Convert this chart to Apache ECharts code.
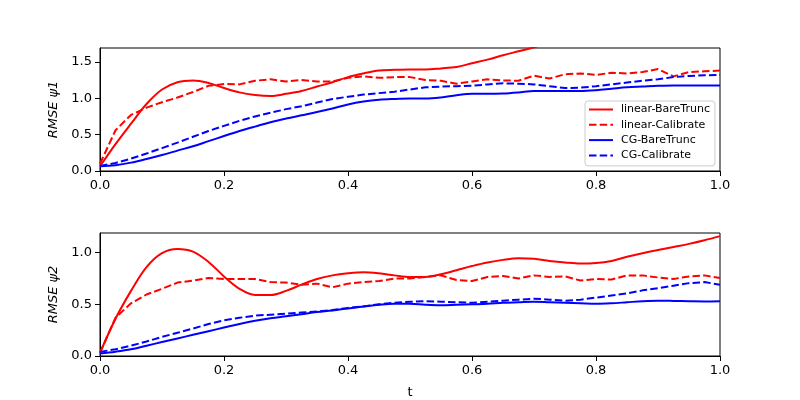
<!DOCTYPE html>
<html>
<head>
<meta charset="utf-8">
<script src="https://cdn.jsdelivr.net/npm/echarts@6/dist/echarts.min.js"></script>
<style>
  html, body { margin: 0; padding: 0; background: #fff; }
  #chart { width: 800px; height: 400px; }
</style>
</head>
<body>
<div id="chart"></div>
<script>
// 时间轴 t
var tVals = [0, 0.025, 0.05, 0.075, 0.1, 0.125, 0.15, 0.175, 0.2, 0.225, 0.25, 0.275, 0.3, 0.325, 0.35, 0.375, 0.4,
    0.425, 0.45, 0.475, 0.5, 0.525, 0.55, 0.575, 0.6, 0.625, 0.65, 0.675, 0.7, 0.725, 0.75, 0.775, 0.8,
    0.825, 0.85, 0.875, 0.9, 0.925, 0.95, 0.975, 1.0];

var legendNames = ['linear-BareTrunc', 'linear-Calibrate', 'CG-BareTrunc', 'CG-Calibrate'];
var xTicks = [0, 0.2, 0.4, 0.6, 0.8, 1.0];
var yTicks1 = [0, 0.5, 1.0, 1.5];
var yTicks2 = [0, 0.5, 1.0];

// psi1 (上图)
var linRaw1 = [0.065, 0.37, 0.65, 0.92, 1.12, 1.22, 1.245, 1.21, 1.14, 1.08, 1.045, 1.03, 1.06, 1.10, 1.16, 1.22, 1.29,
    1.34, 1.38, 1.39, 1.395, 1.395, 1.41, 1.43, 1.48, 1.53, 1.59, 1.645, 1.70, 1.76];
var linCal1 = [0.10, 0.56, 0.77, 0.87, 0.945, 1.01, 1.085, 1.17, 1.195, 1.19, 1.24, 1.26, 1.23, 1.25, 1.23, 1.23, 1.28,
    1.30, 1.28, 1.29, 1.29, 1.25, 1.24, 1.20, 1.23, 1.26, 1.245, 1.24, 1.31, 1.27, 1.33, 1.34, 1.32,
    1.35, 1.34, 1.36, 1.40, 1.30, 1.36, 1.37, 1.38];
var cgRaw1 = [0.065, 0.08, 0.115, 0.165, 0.22, 0.28, 0.34, 0.41, 0.48, 0.55, 0.61, 0.67, 0.72, 0.765, 0.81, 0.86, 0.915,
    0.955, 0.98, 0.99, 0.995, 0.995, 1.01, 1.04, 1.06, 1.06, 1.065, 1.08, 1.10, 1.10, 1.10, 1.10, 1.11,
    1.13, 1.15, 1.16, 1.17, 1.175, 1.175, 1.175, 1.175];
var cgCal1 = [0.07, 0.11, 0.17, 0.24, 0.315, 0.39, 0.47, 0.55, 0.62, 0.69, 0.75, 0.80, 0.85, 0.89, 0.94, 0.99, 1.02,
    1.05, 1.07, 1.09, 1.12, 1.15, 1.16, 1.165, 1.17, 1.19, 1.205, 1.20, 1.19, 1.165, 1.14, 1.145, 1.165,
    1.19, 1.215, 1.24, 1.26, 1.29, 1.305, 1.315, 1.32];

// psi2 (下图)
var linRaw2 = [0.03, 0.36, 0.63, 0.86, 0.995, 1.035, 1.01, 0.91, 0.77, 0.65, 0.59, 0.59, 0.63, 0.69, 0.745, 0.78, 0.80,
    0.81, 0.80, 0.78, 0.765, 0.765, 0.79, 0.83, 0.87, 0.905, 0.93, 0.945, 0.94, 0.92, 0.905, 0.895, 0.90,
    0.92, 0.96, 0.995, 1.025, 1.055, 1.085, 1.12, 1.16];
var linCal2 = [0.03, 0.37, 0.51, 0.595, 0.65, 0.71, 0.73, 0.755, 0.745, 0.745, 0.745, 0.715, 0.71, 0.69, 0.70, 0.665, 0.70,
    0.715, 0.725, 0.75, 0.75, 0.765, 0.78, 0.735, 0.725, 0.765, 0.775, 0.75, 0.78, 0.765, 0.77, 0.73, 0.745,
    0.74, 0.78, 0.78, 0.76, 0.745, 0.77, 0.78, 0.755];
var cgRaw2 = [0.025, 0.042, 0.065, 0.10, 0.135, 0.17, 0.205, 0.24, 0.275, 0.31, 0.34, 0.365, 0.385, 0.405, 0.425, 0.44, 0.46,
    0.478, 0.495, 0.505, 0.505, 0.495, 0.49, 0.495, 0.50, 0.505, 0.515, 0.52, 0.525, 0.52, 0.515, 0.51, 0.505,
    0.51, 0.52, 0.53, 0.535, 0.533, 0.53, 0.528, 0.53];
var cgCal2 = [0.04, 0.065, 0.10, 0.14, 0.185, 0.225, 0.265, 0.31, 0.345, 0.37, 0.39, 0.40, 0.41, 0.42, 0.43, 0.445, 0.465,
    0.48, 0.50, 0.515, 0.525, 0.53, 0.525, 0.52, 0.515, 0.525, 0.535, 0.545, 0.555, 0.545, 0.535, 0.545, 0.565,
    0.585, 0.605, 0.635, 0.655, 0.68, 0.705, 0.715, 0.69];

var FONT = 'DejaVu Sans';

function pairs(vals) {
    var out = [];
    for (var i = 0; i < vals.length; i++) {
        out.push([tVals[i], vals[i]]);
    }
    return out;
}

function makeLine(name, vals, color, dashed, idx) {
    return {
        name: name,
        type: 'line',
        xAxisIndex: idx,
        yAxisIndex: idx,
        data: pairs(vals),
        symbol: 'none',
        smooth: dashed ? false : 0.35,
        clip: true,
        lineStyle: {
            color: color,
            width: 2,
            type: dashed ? [7.5, 3.2] : 'solid'
        },
        itemStyle: { color: color },
        z: 3
    };
}

function fmt(v) {
    return Number(v).toFixed(1);
}

function xAxisOf(idx, showName) {
    return {
        type: 'value',
        gridIndex: idx,
        min: 0,
        max: 1,
        interval: 0.2,
        name: showName ? 't' : '',
        nameLocation: 'middle',
        nameGap: 30,
        nameTextStyle: { fontFamily: FONT, fontSize: 13, color: '#000' },
        axisLine: { show: true, onZero: false, lineStyle: { color: '#000', width: 1 } },
        axisTick: { show: true, inside: false, length: 5, lineStyle: { color: '#000' }, customValues: xTicks },
        axisLabel: { fontFamily: FONT, fontSize: 13, color: '#000', margin: 8, customValues: xTicks, formatter: fmt },
        splitLine: { show: false }
    };
}

function yAxisOf(idx, max, label, ticks) {
    return {
        type: 'value',
        gridIndex: idx,
        min: 0,
        max: max,
        interval: 0.5,
        name: label,
        nameLocation: 'middle',
        nameGap: 40,
        nameTextStyle: { fontFamily: FONT, fontSize: 13, fontStyle: 'italic', color: '#000' },
        axisLine: { show: true, lineStyle: { color: '#000', width: 1 } },
        axisTick: { show: true, inside: false, length: 5, lineStyle: { color: '#000' }, customValues: ticks },
        axisLabel: { fontFamily: FONT, fontSize: 13, color: '#000', margin: 8, customValues: ticks, formatter: fmt },
        splitLine: { show: false }
    };
}

var chart = echarts.init(document.getElementById('chart'));

var option = {
    backgroundColor: '#fff',
    animation: false,
    grid: [
        { left: 100, right: 80, top: 48, height: 123, show: true, borderColor: '#000', borderWidth: 1 },
        { left: 100, right: 80, top: 233, height: 123, show: true, borderColor: '#000', borderWidth: 1 }
    ],
    xAxis: [xAxisOf(0, false), xAxisOf(1, true)],
    yAxis: [yAxisOf(0, 1.69, 'RMSE ψ1', yTicks1), yAxisOf(1, 1.19, 'RMSE ψ2', yTicks2)],
    legend: {
        orient: 'vertical',
        left: 585,
        top: 101,
        data: legendNames,
        itemWidth: 24,
        itemHeight: 11,
        itemGap: 4.3,
        padding: [3, 5, 5, 3],
        borderColor: '#cccccc',
        borderWidth: 1,
        borderRadius: 3,
        backgroundColor: 'rgba(255,255,255,0.8)',
        itemStyle: { opacity: 0 },
        textStyle: { fontFamily: FONT, fontSize: 11, color: '#000', padding: [0, 0, 0, 3] }
    },
    series: [
        makeLine(legendNames[0], linRaw1, '#ff0000', false, 0),
        makeLine(legendNames[1], linCal1, '#ff0000', true, 0),
        makeLine(legendNames[2], cgRaw1, '#0000ff', false, 0),
        makeLine(legendNames[3], cgCal1, '#0000ff', true, 0),
        makeLine(legendNames[0], linRaw2, '#ff0000', false, 1),
        makeLine(legendNames[1], linCal2, '#ff0000', true, 1),
        makeLine(legendNames[2], cgRaw2, '#0000ff', false, 1),
        makeLine(legendNames[3], cgCal2, '#0000ff', true, 1)
    ]
};

chart.setOption(option);
</script>
</body>
</html>
